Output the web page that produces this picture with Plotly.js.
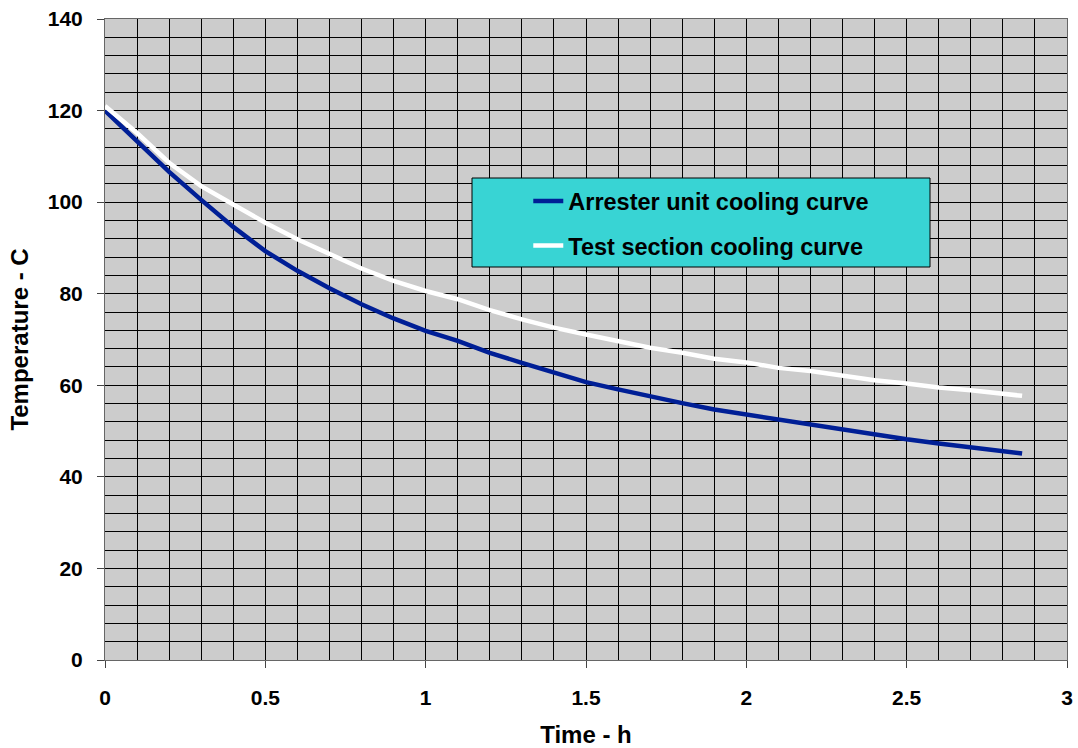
<!DOCTYPE html>
<html>
<head>
<meta charset="utf-8">
<script src="https://cdn.plot.ly/plotly-3.0.1.min.js"></script>
<style>html,body{margin:0;padding:0;background:#fff;}#chart{width:1078px;height:748px;}</style>
</head>
<body>
<div id="chart"></div>
<script>
const timeH = [0,0.1,0.2,0.3,0.4,0.5,0.6,0.7,0.8,0.9,1.0,1.1,1.2,1.3,1.4,1.5,1.6,1.7,1.8,1.9,2.0,2.1,2.2,2.3,2.4,2.5,2.6,2.7,2.8,2.86];
const arresterTemp = [120,113.3,106.6,100.5,94.6,89.3,85.0,81.2,77.7,74.6,71.9,69.7,67.1,64.9,62.7,60.7,59.1,57.5,56.1,54.7,53.6,52.4,51.3,50.2,49.1,48.2,47.3,46.4,45.7,45.1];
const testTemp = [121,115.1,108.6,103.5,99.5,95.5,91.9,88.6,85.5,82.8,80.6,78.8,76.4,74.4,72.6,71.1,69.7,68.2,67.1,65.8,65.0,63.8,63.1,62.0,61.1,60.4,59.5,58.9,58.2,57.7];
const seriesNames = ["Arrester unit cooling curve","Test section cooling curve"];
const xTitle = "Time - h";
const yTitle = "Temperature - C";

const FONT = "Liberation Sans, Arial, sans-serif";
const traces = [
  {x: timeH, y: arresterTemp, name: seriesNames[0], type: "scatter", mode: "lines",
   line: {color: "#001F96", width: 4.5}, legendgroup: "a"},
  {x: timeH, y: testTemp, name: seriesNames[1], type: "scatter", mode: "lines",
   line: {color: "#FFFFFF", width: 4.5}, legendgroup: "b"}
];
const layout = {
  width: 1078, height: 748,
  margin: {l: 105, r: 11, t: 19, b: 88},
  paper_bgcolor: "#FFFFFF",
  plot_bgcolor: "#CCCCCC",
  font: {family: FONT, color: "#000", size: 21, weight: 700},
  showlegend: true,
  legend: {x: 0.44, y: 0.75, xanchor: "left", yanchor: "top",
           bgcolor: "rgba(0,0,0,0)", borderwidth: 0,
           font: {family: FONT, size: 23.5, weight: 700, color: "#000"},
           tracegroupgap: 11, itemwidth: 30},
  shapes: [{type: "rect", xref: "paper", yref: "paper",
            x0: (472-105)/962, x1: (930-105)/962, y0: (660-267)/641, y1: (660-178)/641,
            fillcolor: "#38D4D4", line: {color: "#000", width: 1}, layer: "above"}],
  xaxis: {range: [0, 3], dtick: 0.5, tick0: 0, ticks: "outside", ticklen: 7, tickcolor: "#444",
          showgrid: true, gridcolor: "#000", gridwidth: 1, zeroline: false,
          showline: true, linecolor: "#666", linewidth: 1, mirror: true,
          tickprefix: "<b>", ticksuffix: "</b>",
          tickfont: {family: FONT, size: 21, weight: 700, color: "#000"}, ticklabelstandoff: 12,
          minor: {dtick: 0.1, showgrid: true, gridcolor: "#000", gridwidth: 1},
          title: {text: xTitle, font: {family: FONT, size: 24, weight: 700}, standoff: 17}},
  yaxis: {range: [0, 140], dtick: 20, tick0: 0, ticks: "outside", ticklen: 7, tickcolor: "#444",
          showgrid: true, gridcolor: "#000", gridwidth: 1, zeroline: false,
          showline: true, linecolor: "#666", linewidth: 1, mirror: true,
          tickprefix: "<b>", ticksuffix: "</b>",
          tickfont: {family: FONT, size: 21, weight: 700, color: "#000"}, ticklabelstandoff: 10,
          minor: {dtick: 4, showgrid: true, gridcolor: "#000", gridwidth: 1},
          title: {text: yTitle, font: {family: FONT, size: 24, weight: 700}, standoff: 12}}
};
Plotly.newPlot("chart", traces, layout, {displayModeBar: false, staticPlot: true});
</script>
</body>
</html>
